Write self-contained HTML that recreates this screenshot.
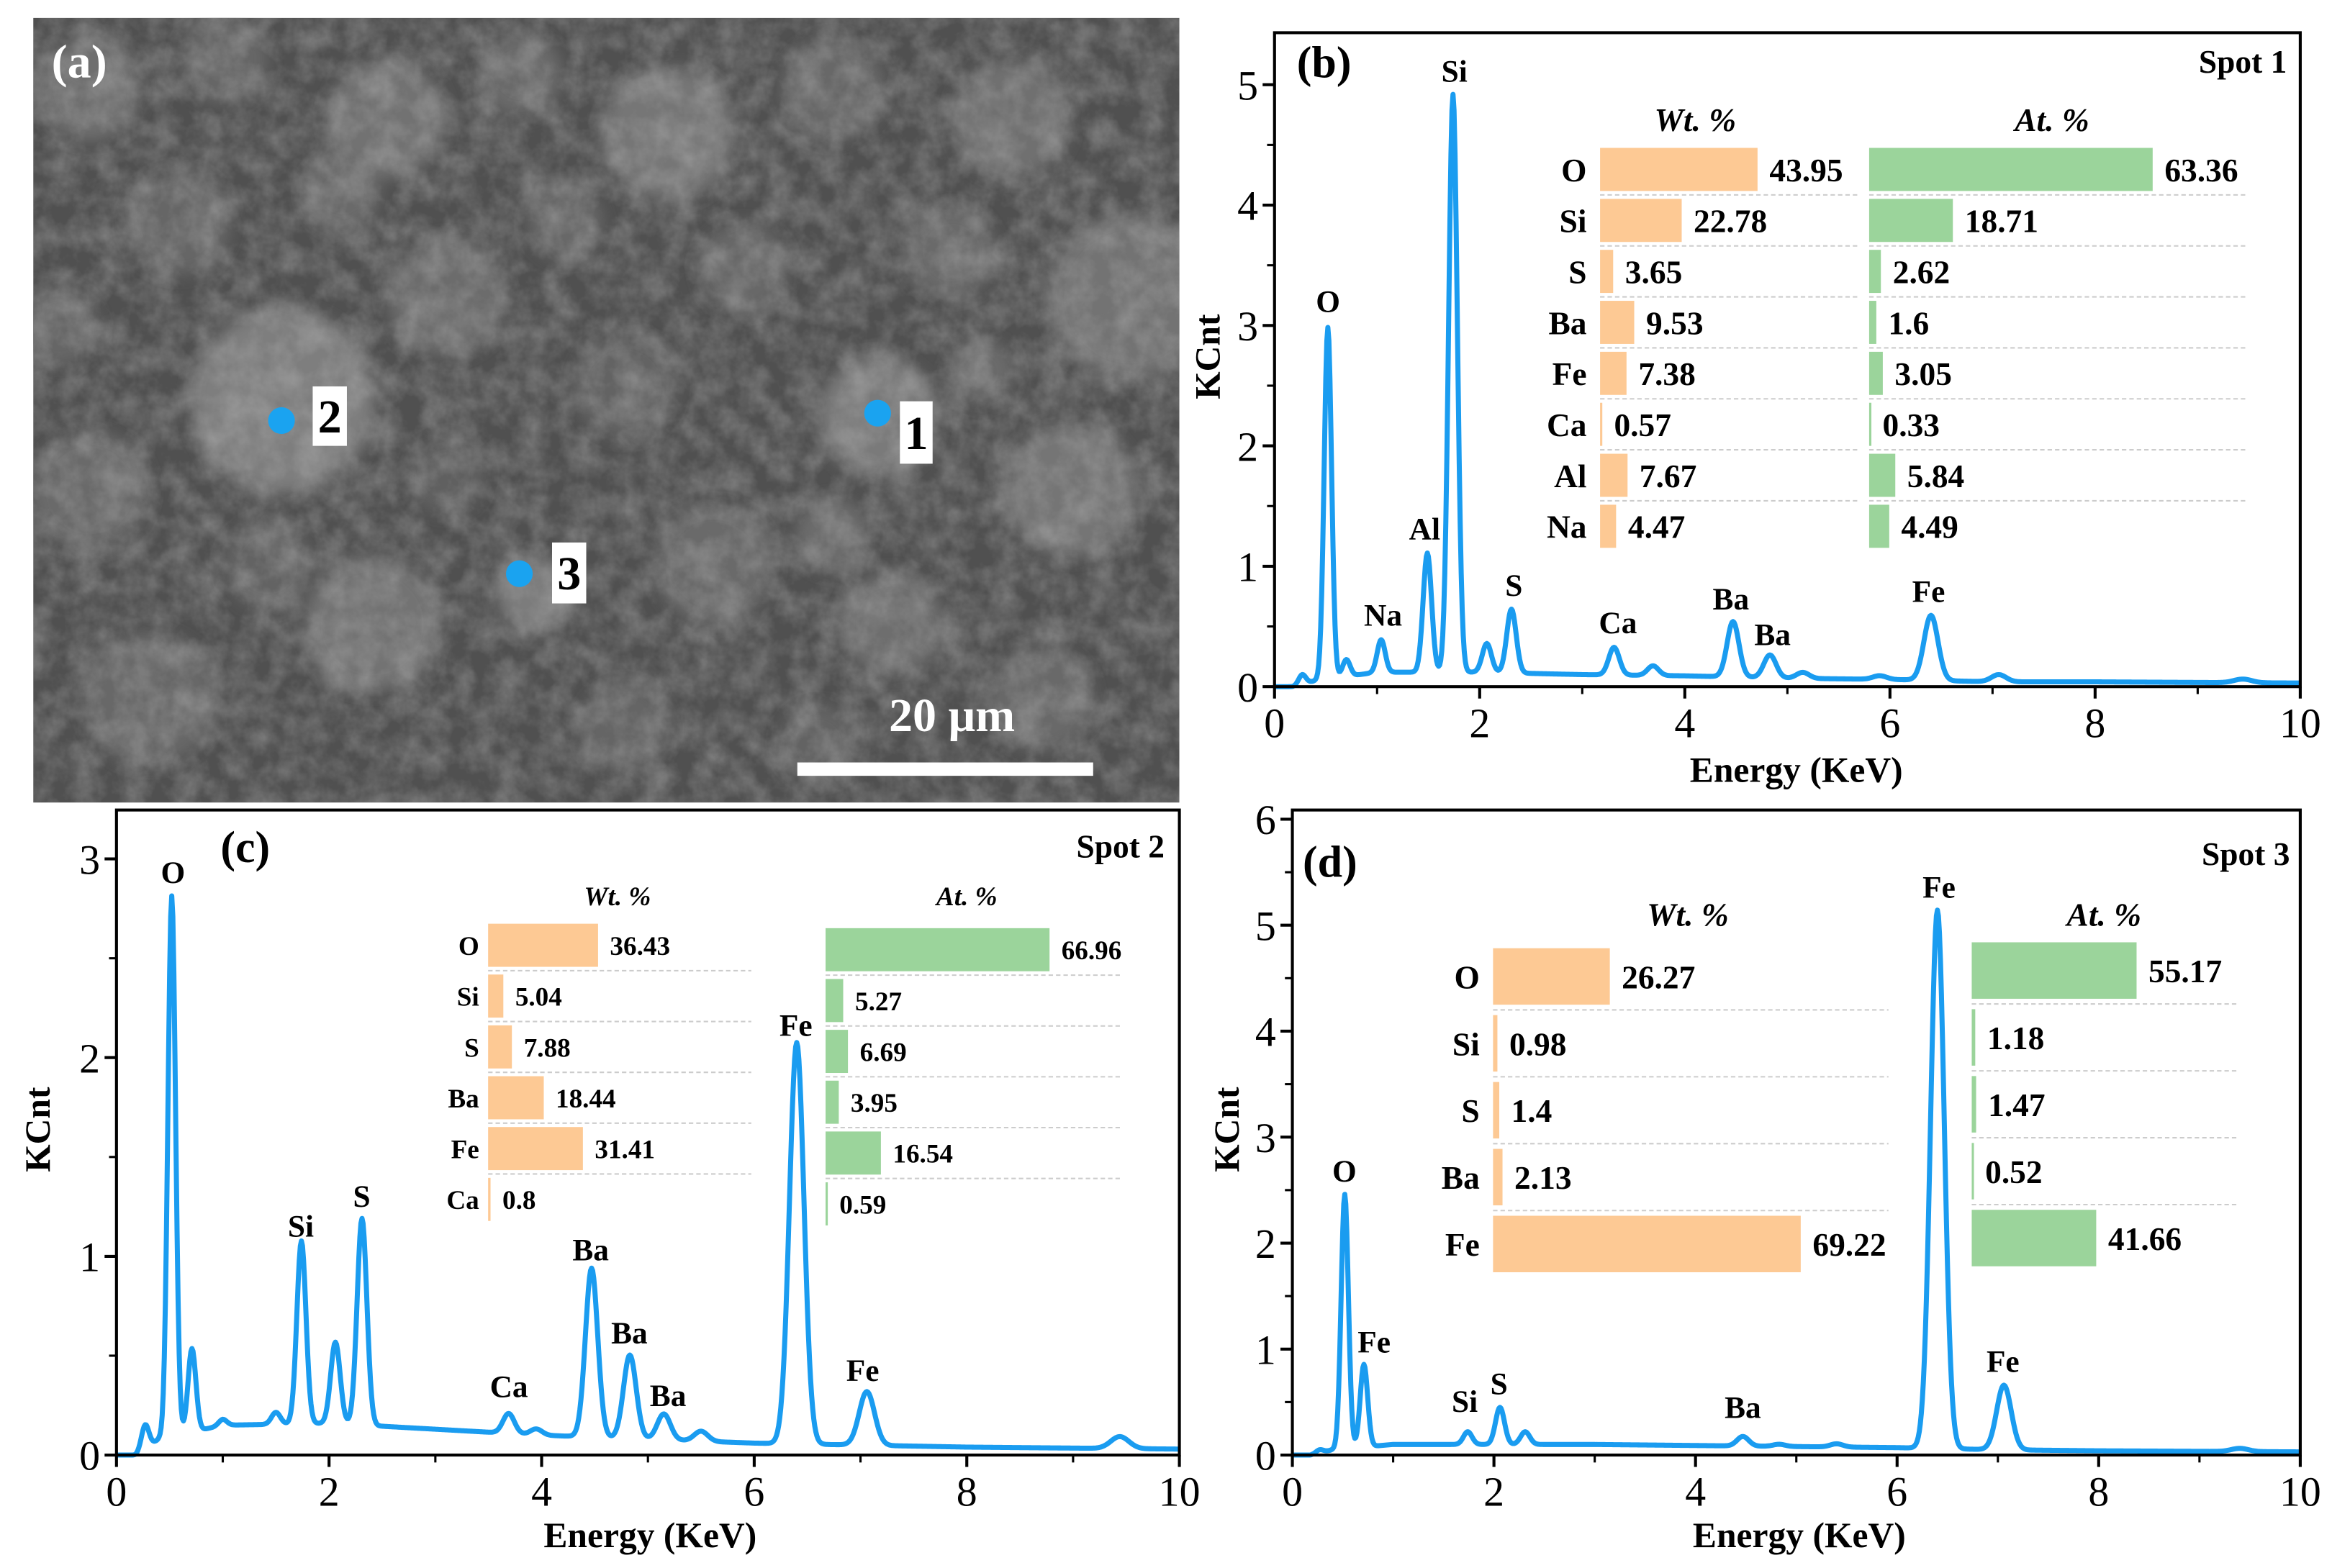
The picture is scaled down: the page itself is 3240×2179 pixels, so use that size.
<!DOCTYPE html>
<html><head><meta charset="utf-8"><style>
html,body{margin:0;padding:0;background:#fff;}
svg{display:block;}
text{font-family:"Liberation Serif",serif;}
</style></head><body>
<svg id="fig" width="3240" height="2179" viewBox="0 0 1568 1055" xmlns="http://www.w3.org/2000/svg">
<defs><filter id="blur" x="-20%" y="-20%" width="140%" height="140%"><feGaussianBlur stdDeviation="5"/></filter>
<filter id="noise" x="0" y="0" width="100%" height="100%"><feTurbulence type="fractalNoise" baseFrequency="0.06" numOctaves="4" seed="3"/><feColorMatrix type="matrix" values="0 0 0 0 0.5  0 0 0 0 0.5  0 0 0 0 0.5  1.2 0 0 0 -0.35"/></filter>
<clipPath id="semclip"><rect x="22" y="12" width="771" height="528"/></clipPath></defs>
<g id="sem" clip-path="url(#semclip)">
<rect x="22" y="12" width="771" height="528" fill="#505050"/>
<g id="blobs" filter="url(#blur)"></g>
<rect x="22" y="12" width="771" height="528" filter="url(#noise)" opacity="0.55"/>
</g>
</svg>
<script>
// ---------- Data ----------
const spot1PeakE = [0.27,0.52,0.70,1.04,1.49,1.74,2.07,2.31,3.31,3.69,4.47,4.83,5.15,5.90,6.40,7.06,9.44];
const spot1PeakH = [0.08,2.92,0.14,0.27,0.99,4.80,0.24,0.53,0.23,0.08,0.46,0.19,0.05,0.03,0.54,0.06,0.03];
const spot2PeakE = [0.27,0.52,0.71,1.00,1.50,1.74,2.06,2.31,3.69,3.95,4.47,4.83,5.15,5.50,6.40,7.06,9.44];
const spot2PeakH = [0.12,2.72,0.42,0.03,0.06,0.92,0.41,1.04,0.10,0.03,0.85,0.42,0.13,0.05,2.02,0.27,0.06];
const spot3PeakE = [0.27,0.52,0.71,1.74,2.06,2.31,4.47,4.83,5.40,6.40,7.06,9.40];
const spot3PeakH = [0.03,2.40,0.78,0.12,0.35,0.12,0.09,0.02,0.03,5.08,0.61,0.03];
const baseE  = [0,0.18,0.4,1,2,3,4,5,6,7,8,10];
const base1  = [0,0,0.05,0.12,0.12,0.10,0.09,0.07,0.06,0.04,0.04,0.03];
const base2  = [0,0,0.08,0.15,0.16,0.13,0.10,0.08,0.06,0.05,0.04,0.03];
const base3  = [0,0,0.05,0.10,0.10,0.10,0.09,0.08,0.07,0.05,0.04,0.03];

const elems1 = ["O","Si","S","Ba","Fe","Ca","Al","Na"];
const wt1 = [43.95,22.78,3.65,9.53,7.38,0.57,7.67,4.47];
const at1 = [63.36,18.71,2.62,1.6,3.05,0.33,5.84,4.49];
const elems2 = ["O","Si","S","Ba","Fe","Ca"];
const wt2 = [36.43,5.04,7.88,18.44,31.41,0.8];
const at2 = [66.96,5.27,6.69,3.95,16.54,0.59];
const elems3 = ["O","Si","S","Ba","Fe"];
const wt3 = [26.27,0.98,1.4,2.13,69.22];
const at3 = [55.17,1.18,1.47,0.52,41.66];

const xTicks = [0,2,4,6,8,10];

// ---------- helpers ----------
const NS="http://www.w3.org/2000/svg";
const svg=document.getElementById('fig');
function mk(tag,attrs,parent){const e=document.createElementNS(NS,tag);for(const k in attrs)e.setAttribute(k,attrs[k]);(parent||svg).appendChild(e);return e;}
function txt(s,x,y,size,opts,parent){opts=opts||{};const e=mk('text',{x:x,y:y,'font-size':size,'font-weight':opts.w||'bold','text-anchor':opts.a||'middle',fill:opts.f||'#000'},parent);if(opts.i)e.setAttribute('font-style','italic');if(opts.t)e.setAttribute('transform',opts.t);e.textContent=s;return e;}
function interp(xs,ys,x){for(let i=0;i<xs.length-1;i++){if(x<=xs[i+1]){const t=(x-xs[i])/(xs[i+1]-xs[i]);return ys[i]+t*(ys[i+1]-ys[i]);}}return ys[ys.length-1];}

// ---------- SEM blobs ----------
const blobG=document.getElementById('blobs');
const blobs=[[60,60,35,'#6e6e6e'],[150,40,30,'#666'],[260,80,40,'#727272'],[350,50,28,'#6a6a6a'],[450,90,45,'#767676'],[560,60,35,'#686868'],[680,80,40,'#707070'],[760,200,55,'#737373'],[190,270,62,'#7e7e7e'],[120,150,35,'#666'],[300,200,40,'#6c6c6c'],[420,260,35,'#646464'],[590,280,40,'#7a7a7a'],[500,180,30,'#686868'],[640,170,30,'#6b6b6b'],[720,330,45,'#747474'],[60,330,40,'#6b6b6b'],[250,420,45,'#737373'],[360,400,26,'#7c7c7c'],[480,380,40,'#6a6a6a'],[600,420,35,'#6e6e6e'],[100,470,45,'#686868'],[700,470,35,'#696969'],[180,380,30,'#646464'],[420,490,30,'#656565'],[550,500,26,'#646464'],[300,320,26,'#616161'],[40,220,26,'#666'],[230,130,25,'#6a6a6a'],[560,360,25,'#6c6c6c'],[380,150,25,'#686868'],[660,250,22,'#6a6a6a']];
blobs.forEach(b=>{mk('circle',{cx:b[0],cy:b[1],r:b[2],fill:b[3]},blobG);});
const semG=document.getElementById('sem');
const spots=[[590,278,"1",605,270,22,42],[189,283,"2",210,260,23,40],[349,386,"3",371,365,23,41]];
spots.forEach(s=>{
  const c=mk('circle',{cx:s[0],cy:s[1],r:9,fill:'#1aa3f0'},semG);
  
  
  const r=mk('rect',{x:s[3],y:s[4],width:s[5],height:s[6],fill:'#fff'},semG);
  
  
  const t=txt(s[2],s[3]+s[5]/2,s[4]+s[6]/2+11,32,{},semG);
  
  
});
const sb=mk('rect',{x:536,y:513,width:199,height:9,fill:'#fff'},semG);


const sbt=txt('20 μm',640,492,32,{f:'#fff'},semG);


const pa=txt('(a)',53,52,32,{f:'#fff'},semG);



// ---------- Panels ----------
const panels=[
 {id:'b',x0:857,x1:1547,y0:462,top:22,ymax:5,uy:81,yTicks:[0,1,2,3,4,5],pe:spot1PeakE,ph:spot1PeakH,base:base1,
  lab:[['O',893,210],['Na',930,421],['Al',958,363],['Si',978,55],['S',1018,401],['Ca',1088,426],['Ba',1164,410],['Ba',1192,434],['Fe',1297,405]],
  pl:[872,52],spot:['Spot 1',1538,49],ex:[1208,526],ky:[820,240],
  tab:{el:elems1,wt:wt1,at:at1,lx:1067,wx:1076,ws:2.41,ax:1257,as:3.01,y0:114,dy:34.3,bh:29,fs:22,hy:88,hw:1140,ha:1380,sw:[1076,1250],sa:[1257,1512],aoff:0}},
 {id:'c',x0:78,x1:793,y0:979,top:545,ymax:3.2,uy:133.7,yTicks:[0,1,2,3],pe:spot2PeakE,ph:spot2PeakH,base:base2,
  lab:[['O',116,594],['Si',202,832],['S',243,812],['Ca',342,940],['Ba',397,848],['Ba',423,904],['Ba',449,946],['Fe',535,697],['Fe',580,929]],
  pl:[148,580],spot:['Spot 2',783,577],ex:[437,1041],ky:[33,760],
  tab:{el:elems2,wt:wt2,at:at2,lx:322,wx:328,ws:2.03,ax:555,as:2.25,y0:636,dy:34.2,bh:29,fs:18,hy:609,hw:415,ha:650,sw:[328,505],sa:[555,755],aoff:3}},
 {id:'d',x0:869,x1:1547,y0:979,top:545,ymax:6,uy:71.3,yTicks:[0,1,2,3,4,5,6],pe:spot3PeakE,ph:spot3PeakH,base:base3,
  lab:[['O',904,795],['Fe',924,910],['Si',985,950],['S',1008,938],['Ba',1172,954],['Fe',1304,604],['Fe',1347,923]],
  pl:[876,590],spot:['Spot 3',1540,582],ex:[1210,1041],ky:[833,760],
  tab:{el:elems3,wt:wt3,at:at3,lx:995,wx:1004,ws:2.99,ax:1326,as:2.01,y0:657,dy:45,bh:38,fs:22,hy:623,hw:1135,ha:1415,sw:[1004,1270],sa:[1326,1505],aoff:-4}}
];

panels.forEach(p=>{
  const g=mk('g',{});
  
  
  const X=e=>p.x0+(p.x1-p.x0)*e/10;
  const Y=v=>p.y0-v*p.uy;
  const t=p.tab;
  const tg=mk('g',{},g);
  
  
  const hw=txt('Wt. %',t.hw,t.hy,t.fs,{i:true},tg);
  
  
  const ha=txt('At. %',t.ha,t.hy,t.fs,{i:true},tg);
  
  
  t.el.forEach((el,i)=>{
    const cy=t.y0+i*t.dy;
    txt(el,t.lx,cy+t.fs*0.36,t.fs,{a:'end'},tg);
    const wb=mk('rect',{x:t.wx,y:cy-t.bh/2,width:Math.max(1.5,t.wt[i]*t.ws),height:t.bh,fill:'#fdc994'},tg);
    
    
    txt(String(t.wt[i]),t.wx+t.wt[i]*t.ws+8,cy+t.fs*0.36,t.fs,{a:'start'},tg);
    const acy=cy+t.aoff;
    const ab=mk('rect',{x:t.ax,y:acy-t.bh/2,width:Math.max(1.5,t.at[i]*t.as),height:t.bh,fill:'#9bd49b'},tg);
    
    
    txt(String(t.at[i]),t.ax+t.at[i]*t.as+8,acy+t.fs*0.36,t.fs,{a:'start'},tg);
    if(i<t.el.length-1){
      const sy=cy+t.dy/2;
      mk('line',{x1:t.sw[0],x2:t.sw[1],y1:sy,y2:sy,stroke:'#ccc','stroke-width':1,'stroke-dasharray':'3,2'},tg);
      mk('line',{x1:t.sa[0],x2:t.sa[1],y1:sy+t.aoff,y2:sy+t.aoff,stroke:'#ccc','stroke-width':1,'stroke-dasharray':'3,2'},tg);
    }
  });
  let d='';
  for(let k=0;k<=1000;k++){
    const e=k/100;
    let v=interp(baseE,p.base,e);
    p.pe.forEach((pe,j)=>{const s=0.033+0.0055*pe;v+=p.ph[j]*Math.exp(-((e-pe)*(e-pe))/(2*s*s));});
    d+=(k?'L':'M')+X(e).toFixed(2)+','+Y(v).toFixed(2);
  }
  const sp=mk('path',{d:d,fill:'none',stroke:'#1a9cf0','stroke-width':3.4,'stroke-linejoin':'round'},g);
  
  
  const fr=mk('rect',{x:p.x0,y:p.top,width:p.x1-p.x0,height:p.y0-p.top,fill:'none',stroke:'#000','stroke-width':2},g);
  
  
  xTicks.forEach(v=>{
    mk('line',{x1:X(v),x2:X(v),y1:p.y0,y2:p.y0+8,stroke:'#000','stroke-width':2},g);
    if(v<10) mk('line',{x1:X(v+1),x2:X(v+1),y1:p.y0,y2:p.y0+5,stroke:'#000','stroke-width':1.5},g);
    const tl=txt(String(v),X(v),p.y0+34,28,{w:'normal'},g);
    
    
  });
  p.yTicks.forEach(v=>{
    mk('line',{x1:p.x0-8,x2:p.x0,y1:Y(v),y2:Y(v),stroke:'#000','stroke-width':2},g);
    if(Y(v+0.5)>p.top) mk('line',{x1:p.x0-5,x2:p.x0,y1:Y(v+0.5),y2:Y(v+0.5),stroke:'#000','stroke-width':1.5},g);
    const yl=txt(String(v),p.x0-11,Y(v)+10,28,{w:'normal',a:'end'},g);
    
    
  });
  const xt=txt('Energy (KeV)',p.ex[0],p.ex[1],24,{},g);
  
  
  const yt=txt('KCnt',p.ky[0],p.ky[1],24,{t:'rotate(-90 '+p.ky[0]+' '+p.ky[1]+')'},g);
  
  
  p.lab.forEach(l=>{
    const pl=txt(l[0],l[1],l[2],21,{},g);
    
    
  });
  const pn=txt('('+p.id+')',p.pl[0],p.pl[1],30,{a:'start'},g);
  
  
  const st=txt(p.spot[0],p.spot[1],p.spot[2],22,{a:'end'},g);
  
  
});
</script>
</body></html>
